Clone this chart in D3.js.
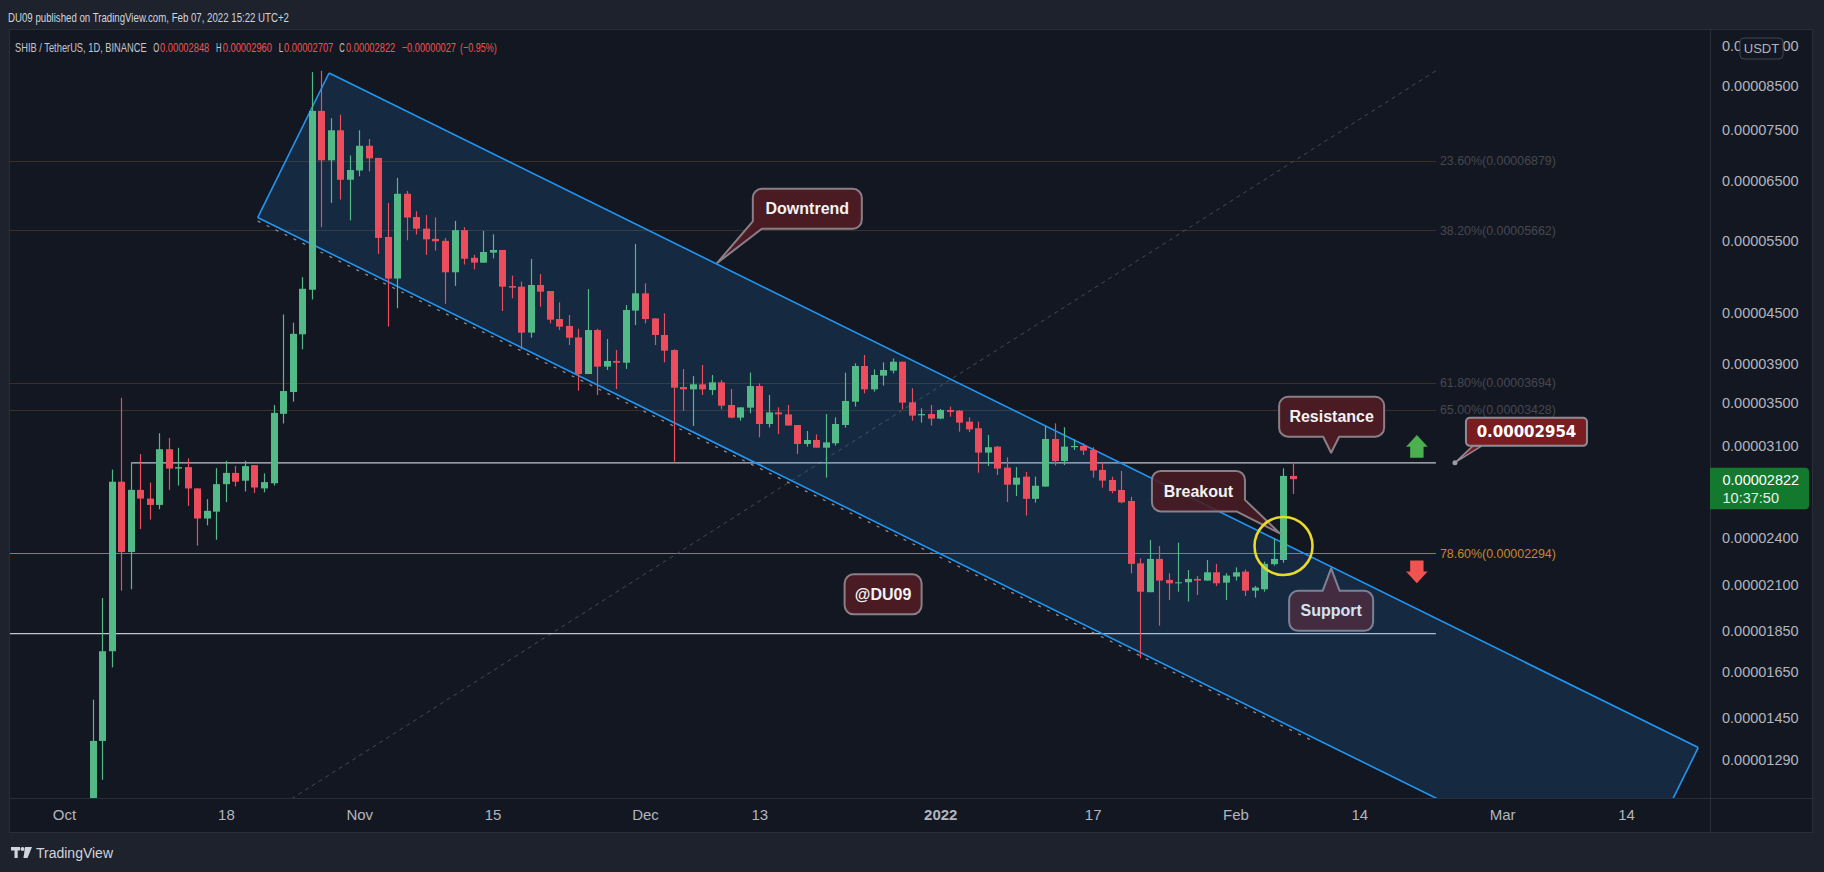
<!DOCTYPE html>
<html>
<head>
<meta charset="utf-8">
<title>SHIB / TetherUS 1D</title>
<script src="https://cdn.jsdelivr.net/npm/d3@7/dist/d3.min.js"></script>
<style>
  html, body { margin: 0; padding: 0; background: #1e222d; overflow: hidden; }
  svg { display: block; }
</style>
</head>
<body>
<svg id="chart"></svg>
<script>
// prices are kept in 1e-8 USDT (2822 means 0.00002822)
const UNIT = 1e-8;

// daily candles, one per day from firstDay
const firstDay = '2021-10-04';
const open = [920,1357,1744,2802,2302,2739,2673,2626,3069,2907,
  2919,2750,2528,2577,2783,2872,2810,2935,2750,2790,
  3388,3601,4232,4794,7906,6885,7489,6521,6692,7171,
  6932,5557,4946,6270,5875,5687,5527,5497,5034,5664,
  5242,5171,5318,5358,4844,4835,4252,4858,4777,4417,
  4332,4196,3787,4283,3866,3928,3909,4522,4746,4425,
  4224,4050,3652,3628,3680,3622,3700,3473,3352,3447,
  3662,3293,3402,3383,3284,3114,3149,3082,3120,3284,
  3505,3873,3628,3770,3823,3920,3499,3374,3386,3343,
  3425,3418,3315,3254,3040,3091,2915,2779,2842,2671,
  2764,3158,2969,3086,3097,3062,2896,2816,2738,2655,
  2230,2057,2258,2129,2109,2115,2135,2125,2175,2113,
  2149,2179,2066,2074,2225,2251,2848];
const high = [1523,2024,2899,3543,2959,3028,2795,3209,3166,3081,
  2991,2752,2669,2911,2971,2927,2971,2935,2868,3472,
  4474,4372,4966,8812,8846,7747,7821,6979,7489,7308,
  6932,6111,6557,6321,5971,5907,5867,5542,5812,5710,
  5285,5650,5598,5358,4987,4904,5224,5010,4777,4628,
  4467,4299,4804,4299,4177,4050,4594,5448,4881,4425,
  4488,4058,3841,3767,3884,3777,3724,3632,3450,3802,
  3690,3571,3450,3473,3284,3229,3199,3386,3355,3802,
  3902,3994,3837,3913,3957,3920,3639,3441,3473,3434,
  3457,3425,3355,3315,3193,3097,3000,2919,2880,2842,
  3275,3299,3263,3155,3120,3086,2956,2842,2888,2687,
  2262,2381,2341,2169,2363,2189,2153,2251,2227,2169,
  2205,2192,2093,2241,2392,2909,2960];
const low = [880,1217,1667,2066,2074,2454,2521,2594,2739,2772,
  2619,2343,2480,2382,2647,2765,2727,2716,2720,2772,
  3298,3505,4058,4666,5710,6111,6169,5820,6584,6674,
  5300,4325,4553,5505,5595,5285,5350,4609,4846,5144,
  5075,5171,5234,4517,4680,4058,4192,4572,4364,4283,
  4107,3615,3787,3571,3830,3632,3841,4344,4364,4107,
  3913,2964,3418,3275,3571,3571,3431,3346,3324,3393,
  3173,3262,3202,3279,3028,3091,3082,2834,3100,3259,
  3457,3588,3605,3666,3794,3431,3324,3306,3278,3337,
  3361,3223,3220,2874,2928,2855,2648,2692,2549,2643,
  2764,2931,2936,3062,3020,2834,2756,2713,2638,2169,
  1710,2057,1873,2013,2060,2004,2041,2125,2093,2013,
  2125,2035,2026,2060,2216,2234,2707];
const close = [1357,1744,2802,2302,2739,2673,2626,3069,2907,2919,
  2750,2528,2583,2783,2872,2802,2927,2757,2799,3397,
  3611,4238,4807,7906,6885,7489,6521,6701,7171,6923,
  5542,4946,6270,5867,5687,5520,5490,5034,5664,5228,
  5172,5328,5358,4835,4822,4252,4858,4768,4409,4324,
  4192,3787,4283,3866,3928,3909,4530,4746,4417,4224,
  4043,3645,3628,3680,3628,3700,3466,3352,3450,3662,
  3293,3402,3383,3279,3114,3149,3082,3128,3293,3512,
  3873,3628,3777,3830,3920,3496,3371,3386,3343,3425,
  3406,3306,3244,3040,3086,2907,2779,2834,2671,2771,
  3158,2969,3091,3097,3057,2891,2811,2730,2645,2227,
  2060,2258,2125,2109,2115,2135,2125,2175,2109,2155,
  2175,2066,2084,2227,2258,2848,2822];

const lastChange = '\u22120.00000027';
const lastChangePct = '(\u22120.95%)';

const timeTicks = ['2021-10-01','2021-10-18','2021-11-01','2021-11-15','2021-12-01','2021-12-13',
  '2022-01-01','2022-01-17','2022-02-01','2022-02-14','2022-03-01','2022-03-14'];
const timeLabels = ['Oct','18','Nov','15','Dec','13','2022','17','Feb','14','Mar','14'];
const priceTicks = [9500,8500,7500,6500,5500,4500,3900,3500,3100,2400,2100,1850,1650,1450,1290];

// fibonacci retracement anchors and levels
const fibLow = { date: '2021-09-06T17:00Z', price: 510 };
const fibHigh = { date: '2022-02-22T01:00Z', price: 8846 };
const fibLevels = [0.236, 0.382, 0.618, 0.65, 0.786];

// horizontal levels (resistance / support)
const hLines = [
  { from: '2021-10-08T02:00Z', to: '2022-02-22T01:00Z', price: 2954 },
  { from: '2021-09-06T17:00Z', to: '2022-02-22T01:00Z', price: 1832 }
];

// descending channel: two points on the upper edge, one on the lower edge
const channelTop = [{ date: '2021-10-28T20:00Z', price: 8790 }, { date: '2022-03-21T14:00Z', price: 1332 }];
const channelLow = { date: '2021-10-21T08:00Z', price: 5867 };
const channelMarkEnd = '2022-02-08T22:00Z';

// callouts, anchored at the tip of their pointer
const notes = [
  { text: 'Downtrend', date: '2021-12-08T13:00Z', price: 5162 },
  { text: 'Resistance', date: '2022-02-11T01:00Z', price: 3039 },
  { text: 'Support', date: '2022-02-11T01:00Z', price: 2199 },
  { text: '@DU09', date: '2021-12-26T00:00Z', price: 2045 },
  { text: 'Breakout', date: '2022-02-05T16:00Z', price: 2425 }
];
const priceNote = { date: '2022-02-24T01:00Z', price: 2954 };
const ring = { date: '2022-02-06T01:00Z', price: 2341 };
const arrows = [
  { dir: 'up', date: '2022-02-20T01:00Z', price: 3094 },
  { dir: 'down', date: '2022-02-20T01:00Z', price: 2177 }
];

// ---------------------------------------------------------------
const W = 1824, H = 872;
const plot = { x0: 9, y0: 29, x1: 1710, y1: 798 };
const UP = '#53b987', DOWN = '#eb4d5c';
const FONT = '"Liberation Sans", Arial, sans-serif';

const svg = d3.select('#chart').attr('width', W).attr('height', H)
  .attr('font-family', FONT);

const x = d3.scaleUtc()
  .domain([new Date('2021-10-01T00:00Z'), new Date('2022-03-14T00:00Z')])
  .range([64, 1626]);
const y = d3.scaleLog()
  .domain([1.15679e-5, 9.9414e-5])
  .range([plot.y1, plot.y0]);
const X = d => x(new Date(d));
const Y = p => y(p * UNIT);

const start = new Date(firstDay + 'T00:00Z');
const candles = open.map((o, i) => ({
  date: d3.utcDay.offset(start, i), o: o, h: high[i], l: low[i], c: close[i]
}));

svg.append('rect').attr('width', W).attr('height', H).attr('fill', '#1e222d');
svg.append('rect').attr('x', 9).attr('y', 29).attr('width', 1804).attr('height', 804)
  .attr('fill', '#131722');

svg.append('defs').append('clipPath').attr('id', 'plotclip')
  .append('rect').attr('x', plot.x0).attr('y', plot.y0)
  .attr('width', plot.x1 - plot.x0).attr('height', plot.y1 - plot.y0);

const g = svg.append('g').attr('clip-path', 'url(#plotclip)');

// fib levels
const fx0 = X(fibLow.date), fx1 = X(fibHigh.date);
fibLevels.forEach(r => {
  const p = fibHigh.price - r * (fibHigh.price - fibLow.price);
  const main = r === 0.786;
  g.append('line').attr('x1', fx0).attr('x2', fx1)
    .attr('y1', Math.round(Y(p)) + 0.5).attr('y2', Math.round(Y(p)) + 0.5)
    .attr('stroke', main ? '#b8741a' : '#3a3026').attr('stroke-width', 1);
  g.append('text').attr('x', fx1 + 4).attr('y', Y(p)).attr('dy', '0.35em')
    .attr('font-size', 12.5).attr('fill', main ? '#c4872f' : '#46484f')
    .attr('textLength', 116).attr('lengthAdjust', 'spacingAndGlyphs')
    .text((r * 100).toFixed(2) + '%(' + (p * UNIT).toFixed(8) + ')');
});

// fib trend line (dashed)
g.append('line')
  .attr('x1', fx0).attr('y1', Y(fibLow.price))
  .attr('x2', fx1).attr('y2', Y(fibHigh.price))
  .attr('stroke', '#474a54').attr('stroke-width', 1).attr('stroke-dasharray', '4,4');

// horizontal levels
hLines.forEach(l => {
  g.append('line').attr('x1', X(l.from)).attr('x2', X(l.to))
    .attr('y1', Y(l.price)).attr('y2', Y(l.price))
    .attr('stroke', '#c3c6cf').attr('stroke-width', 1.4);
});

// callouts
const calloutLayout = {
  'Downtrend': { dx: 36, dy: -74.5, w: 109, h: 40, side: 'bl', e1: 32.5, e2: 9 },
  'Resistance': { dx: -52, dy: -56, w: 105, h: 40, side: 'bottom', b: 8 },
  'Breakout': { dx: -128, dy: -62.5, w: 93, h: 40.5, side: 'br', e1: 29, e2: 8.5 },
  'Support': { dx: -42, dy: 22.5, w: 84, h: 40, side: 'top', b: 8.5 },
  '@DU09': { dx: -38.5, dy: -20, w: 77, h: 40, side: null }
};

function calloutPath(bx, by, w, h, r, L, tx, ty) {
  const p = d3.path();
  const R = bx + w, B = by + h;
  p.moveTo(bx + r, by);
  if (L.side === 'top') { p.lineTo(tx - L.b, by); p.lineTo(tx, ty); p.lineTo(tx + L.b, by); }
  p.lineTo(R - r, by); p.arcTo(R, by, R, by + r, r);
  if (L.side === 'br') {
    p.lineTo(R, by + L.e1); p.lineTo(tx, ty); p.lineTo(R - L.e2, B);
  } else {
    p.lineTo(R, B - r); p.arcTo(R, B, R - r, B, r);
  }
  if (L.side === 'bottom') { p.lineTo(tx + L.b, B); p.lineTo(tx, ty); p.lineTo(tx - L.b, B); }
  if (L.side === 'bl') {
    p.lineTo(bx + L.e2, B); p.lineTo(tx, ty); p.lineTo(bx, by + L.e1);
  } else {
    p.lineTo(bx + r, B); p.arcTo(bx, B, bx, B - r, r);
  }
  p.lineTo(bx, by + r); p.arcTo(bx, by, bx + r, by, r);
  p.closePath();
  return p.toString();
}

function drawCallout(parent, n, fill) {
  const L = calloutLayout[n.text];
  const tx = X(n.date), ty = Y(n.price);
  const bx = tx + L.dx, by = ty + L.dy;
  parent.append('path').attr('d', calloutPath(bx, by, L.w, L.h, 9, L, tx, ty))
    .attr('fill', fill).attr('stroke', '#8b7f87').attr('stroke-width', 2)
    .attr('stroke-linejoin', 'round');
  parent.append('text').attr('x', bx + L.w / 2).attr('y', by + L.h / 2).attr('dy', '0.35em')
    .attr('text-anchor', 'middle').attr('font-size', 16).attr('font-weight', 'bold')
    .attr('fill', '#f2f2f2').text(n.text);
}

notes.filter(n => n.text !== 'Breakout').forEach(n => drawCallout(g, n, '#4a1b22'));

// channel
const A = [X(channelTop[0].date), Y(channelTop[0].price)];
const C = [X(channelTop[1].date), Y(channelTop[1].price)];
const B = [X(channelLow.date), Y(channelLow.price)];
const D = [C[0] + B[0] - A[0], C[1] + B[1] - A[1]];

g.append('path').attr('d', d3.line()([A, C, D, B]) + 'Z')
  .attr('fill', 'rgba(33,150,243,0.15)');
const t = (X(channelMarkEnd) - B[0]) / (D[0] - B[0]);
g.append('line')
  .attr('x1', B[0]).attr('y1', B[1] + 3.5)
  .attr('x2', B[0] + t * (D[0] - B[0])).attr('y2', B[1] + t * (D[1] - B[1]) + 3.5)
  .attr('stroke', '#8e919b').attr('stroke-width', 1.2).attr('stroke-dasharray', '3,7');
[[A, C], [A, B], [C, D], [B, D]].forEach(s => {
  g.append('line').attr('x1', s[0][0]).attr('y1', s[0][1]).attr('x2', s[1][0]).attr('y2', s[1][1])
    .attr('stroke', '#2196f3').attr('stroke-width', 1.6);
});

// candles
const bw = 7;
const cg = g.append('g');
cg.selectAll('line.wick').data(candles).enter().append('line')
  .attr('class', 'wick')
  .attr('x1', d => Math.round(x(d.date)) + 0.5).attr('x2', d => Math.round(x(d.date)) + 0.5)
  .attr('y1', d => Y(d.h)).attr('y2', d => Y(d.l))
  .attr('stroke', d => d.c >= d.o ? UP : DOWN).attr('stroke-width', 1.2);
cg.selectAll('rect.body').data(candles).enter().append('rect')
  .attr('class', 'body')
  .attr('x', d => Math.round(x(d.date)) + 0.5 - bw / 2)
  .attr('width', bw)
  .attr('y', d => Y(Math.max(d.o, d.c)))
  .attr('height', d => Math.max(1, Math.abs(Y(d.o) - Y(d.c))))
  .attr('fill', d => d.c >= d.o ? UP : DOWN);

// breakout callout sits above the channel
notes.filter(n => n.text === 'Breakout').forEach(n => drawCallout(g, n, 'rgba(74,27,34,0.86)'));

// ring around the breakout
g.append('circle').attr('cx', X(ring.date)).attr('cy', Y(ring.price)).attr('r', 29)
  .attr('fill', 'none').attr('stroke', '#e8d92b').attr('stroke-width', 2.6);

// arrows
arrows.forEach(a => {
  const cx = X(a.date), cy = Y(a.price);
  const s = a.dir === 'up' ? 1 : -1;
  const pts = [[0, -11.3], [10.8, 0.4], [6.7, 0.4], [6.7, 11.4], [-6.7, 11.4], [-6.7, 0.4], [-10.8, 0.4]]
    .map(p => [cx + p[0], cy + s * p[1]]);
  g.append('path').attr('d', d3.line()(pts) + 'Z')
    .attr('fill', a.dir === 'up' ? '#4caf50' : '#f05350');
});

// price label
{
  const ax = X(priceNote.date), ay = Y(priceNote.price);
  g.append('path').attr('d', d3.line()([[ax + 1, ay - 1], [ax + 18, ay - 17], [ax + 27, ay - 17]]) + 'Z')
    .attr('fill', '#7a1d21').attr('stroke', '#8f8c96').attr('stroke-width', 1.5);
  g.append('circle').attr('cx', ax).attr('cy', ay).attr('r', 2.5).attr('fill', '#9a9ca5');
  g.append('rect').attr('x', ax + 11).attr('y', ay - 45).attr('width', 121).attr('height', 28)
    .attr('rx', 4).attr('fill', '#7a1d21').attr('stroke', '#8f8c96').attr('stroke-width', 2);
  g.append('text').attr('x', ax + 71.5).attr('y', ay - 31).attr('dy', '0.36em')
    .attr('text-anchor', 'middle').attr('font-family', '"DejaVu Sans", sans-serif')
    .attr('font-weight', 'bold').attr('font-size', 15).attr('fill', '#ffffff')
    .text((priceNote.price * UNIT).toFixed(8));
}

// frame lines
svg.append('rect').attr('x', 9.5).attr('y', 29.5).attr('width', 1803).attr('height', 803)
  .attr('fill', 'none').attr('stroke', '#2a2e39');
svg.append('line').attr('x1', 1710.5).attr('x2', 1710.5).attr('y1', 29).attr('y2', 833)
  .attr('stroke', '#2a2e39');
svg.append('line').attr('x1', 9).attr('x2', 1813).attr('y1', 798.5).attr('y2', 798.5)
  .attr('stroke', '#2a2e39');

// time axis
const xAxis = svg.append('g').attr('transform', 'translate(0,798)')
  .call(d3.axisBottom(x).tickValues(timeTicks.map(d => new Date(d + 'T00:00Z')))
    .tickFormat((d, i) => timeLabels[i]).tickSize(0));
xAxis.select('.domain').remove();
xAxis.selectAll('text').attr('y', 17).attr('dy', '0.36em')
  .attr('font-family', FONT).attr('font-size', 15).attr('fill', '#b2b5be')
  .attr('font-weight', (d, i) => timeLabels[i] === '2022' ? 'bold' : 'normal');

// price axis
const yAxis = svg.append('g').attr('transform', 'translate(1710,0)')
  .call(d3.axisRight(y).tickValues(priceTicks.map(v => v * UNIT))
    .tickFormat(d => d.toFixed(8)).tickSize(0));
yAxis.select('.domain').remove();
yAxis.selectAll('text').attr('x', 12).attr('dy', '0.35em')
  .attr('font-family', FONT).attr('font-size', 14.5).attr('fill', '#b2b5be');

// currency badge
svg.append('rect').attr('x', 1740).attr('y', 38).attr('width', 43).attr('height', 21).attr('rx', 4)
  .attr('fill', '#131722').attr('stroke', '#434651');
svg.append('text').attr('x', 1761.5).attr('y', 48.5).attr('dy', '0.35em').attr('text-anchor', 'middle')
  .attr('font-size', 13).attr('fill', '#b2b5be').text('USDT');

// last price tag
{
  const last = candles[candles.length - 1];
  const ly = Y(last.c);
  svg.append('path')
    .attr('d', `M1710,${ly - 11.5}h95a4,4 0 0 1 4,4v33.5a4,4 0 0 1 -4,4h-95z`)
    .attr('fill', '#12792e');
  svg.append('text').attr('x', 1722.5).attr('y', ly + 1).attr('dy', '0.35em')
    .attr('font-size', 14.5).attr('fill', '#ffffff')
    .text((last.c * UNIT).toFixed(8));
  svg.append('text').attr('x', 1722.5).attr('y', ly + 19).attr('dy', '0.35em')
    .attr('font-size', 14.5).attr('fill', '#e6f2e8').text('10:37:50');
}

// header lines: narrow face, drawn small and stretched vertically
svg.append('g').attr('transform', 'translate(8,17) scale(1,1.4)')
  .append('text').attr('x', 0).attr('y', 0).attr('dy', '0.35em')
  .attr('font-size', 9.6).attr('fill', '#d1d4dc')
  .attr('textLength', 281).attr('lengthAdjust', 'spacingAndGlyphs')
  .text('DU09 published on TradingView.com, Feb 07, 2022 15:22 UTC+2');

{
  const last = candles[candles.length - 1];
  const f = v => (v * UNIT).toFixed(8);
  const parts = [
    { t: 'SHIB / TetherUS, 1D, BINANCE', x: 15, w: 131.7, c: '#c3c6ce' },
    { t: 'O', x: 153.3, w: 6, c: '#c3c6ce' },
    { t: f(last.o), x: 160, w: 49.3, c: '#ef5350' },
    { t: 'H', x: 216, w: 5.5, c: '#c3c6ce' },
    { t: f(last.h), x: 222.7, w: 49.3, c: '#ef5350' },
    { t: 'L', x: 278.7, w: 4.5, c: '#c3c6ce' },
    { t: f(last.l), x: 284, w: 49.3, c: '#ef5350' },
    { t: 'C', x: 339.3, w: 5.5, c: '#c3c6ce' },
    { t: f(last.c), x: 346, w: 49.3, c: '#ef5350' },
    { t: lastChange, x: 401.7, w: 54.3, c: '#ef5350' },
    { t: lastChangePct, x: 460, w: 36.7, c: '#ef5350' }
  ];
  svg.append('g').attr('transform', 'translate(0,47.5) scale(1,1.4)')
    .selectAll('text').data(parts).enter().append('text')
    .attr('x', d => d.x).attr('y', 0).attr('dy', '0.35em')
    .attr('font-size', 9.2).attr('fill', d => d.c)
    .attr('textLength', d => d.w).attr('lengthAdjust', 'spacingAndGlyphs')
    .text(d => d.t);
}

// TradingView logo
{
  const lg = svg.append('g').attr('fill', '#d1d4dc');
  lg.append('rect').attr('x', 11).attr('y', 847).attr('width', 9).attr('height', 3.5);
  lg.append('rect').attr('x', 14.5).attr('y', 847).attr('width', 3.2).attr('height', 11);
  lg.append('circle').attr('cx', 22.5).attr('cy', 849).attr('r', 2);
  lg.append('path').attr('d', 'M25,847L32,847L27.5,858L23.5,858Z');
  svg.append('text').attr('x', 36).attr('y', 853.5).attr('dy', '0.35em')
    .attr('font-size', 14).attr('fill', '#d1d4dc')
    .attr('textLength', 77).attr('lengthAdjust', 'spacingAndGlyphs')
    .text('TradingView');
}
</script>
</body>
</html>
